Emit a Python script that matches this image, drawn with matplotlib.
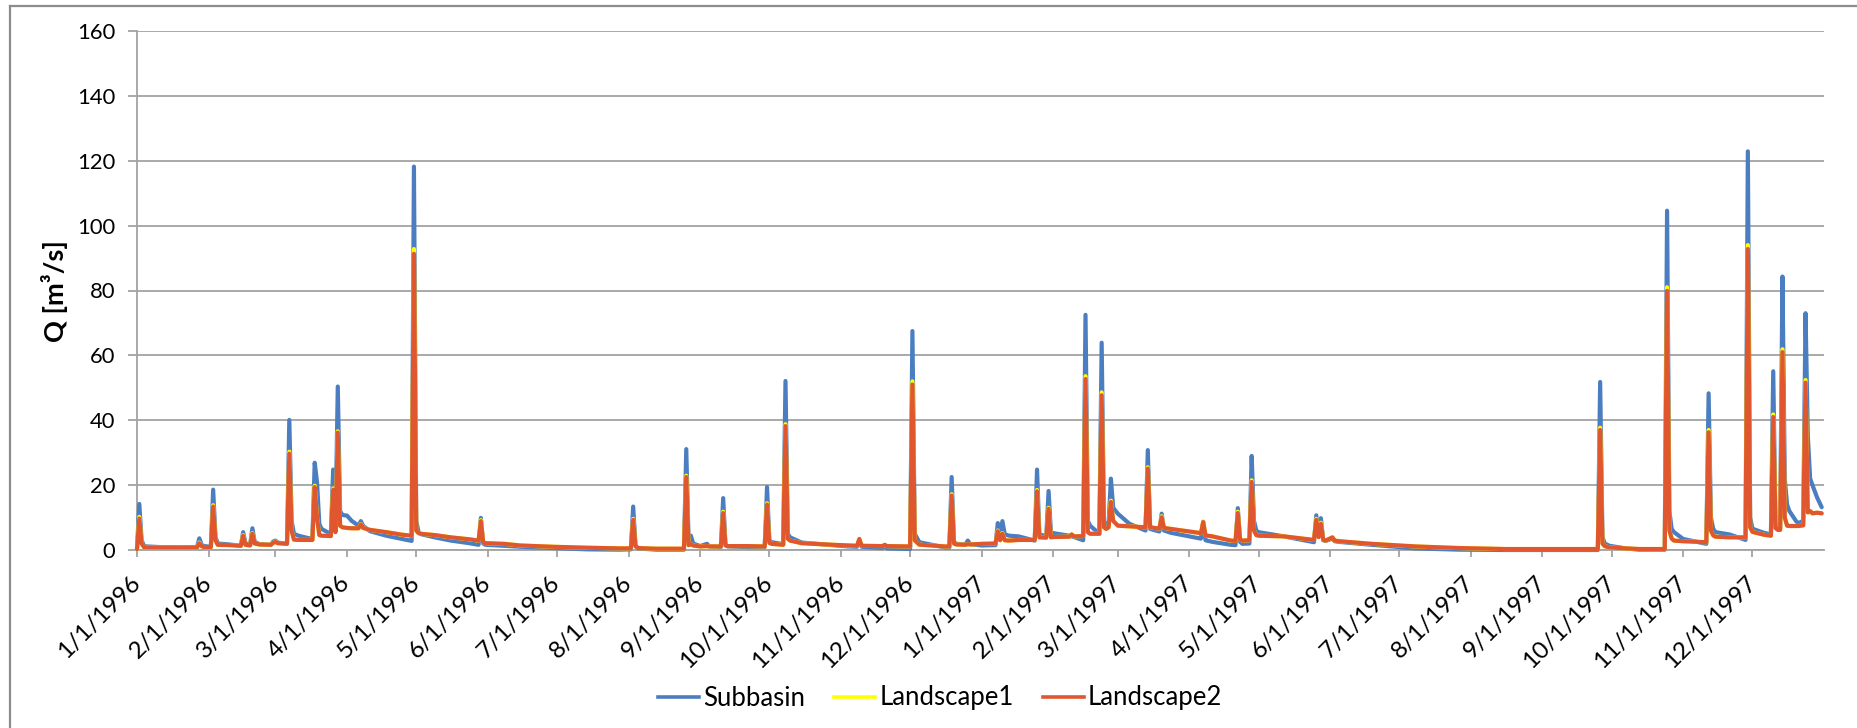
import numpy as np
import matplotlib
matplotlib.use("Agg")
import matplotlib.pyplot as plt
from matplotlib.lines import Line2D

plt.rcParams['font.family'] = ['Lato', 'DejaVu Sans']

# ---- data : day offset from 1/1/1996, Q in m3/s ----
day = [0, 1, 2, 3, 4, 10, 20, 26, 27, 28, 29, 32, 33, 34, 35, 40, 45, 46, 47, 49,
       50, 51, 53, 58, 59, 60, 61, 63, 65, 66, 67, 68, 70, 74, 76, 77, 78, 79, 80, 84,
       85, 86, 87, 88, 89, 91, 93, 96, 97, 98, 101, 108, 115, 119, 120, 121, 122, 123, 129, 136,
       144, 148, 149, 150, 151, 159, 166, 180, 195, 209, 214, 215, 216, 217, 225, 237, 238, 239, 240, 241,
       244, 247, 248, 253, 254, 255, 256, 265, 272, 273, 274, 275, 280, 281, 282, 283, 288, 300, 308, 312,
       313, 314, 323, 324, 325, 335, 336, 337, 339, 350, 352, 353, 354, 355, 359, 360, 361, 366, 372, 373,
       374, 375, 376, 378, 382, 389, 390, 391, 394, 395, 396, 397, 404, 405, 406, 410, 411, 412, 413, 417,
       418, 419, 420, 421, 422, 423, 425, 430, 437, 438, 439, 443, 444, 445, 448, 458, 461, 462, 463, 466,
       474, 476, 477, 478, 479, 482, 483, 484, 485, 486, 497, 510, 511, 512, 513, 514, 515, 518, 519, 521,
       535, 554, 573, 593, 633, 634, 635, 636, 638, 645, 651, 662, 663, 664, 665, 666, 670, 680, 681, 682,
       683, 684, 690, 697, 698, 699, 700, 701, 705, 708, 709, 710, 711, 712, 713, 714, 715, 716, 719, 720,
       722, 723, 724, 725, 726, 728, 730]

subbasin = [0.5, 14.2, 3.0, 1.3, 1.1, 0.9, 0.8, 0.9, 3.6, 1.6, 1.2, 1.0, 18.6, 4.0, 2.0, 1.7, 1.3, 5.5, 2.0, 1.5,
            6.7, 2.5, 1.8, 1.6, 2.6, 2.9, 2.3, 2.1, 2.0, 40.1, 9.0, 5.0, 4.4, 3.7, 3.5, 26.9, 21.0, 8.0, 6.5, 4.9,
            24.8, 7.0, 50.4, 12.0, 10.8, 10.6, 9.0, 7.5, 8.9, 7.4, 5.8, 4.4, 3.4, 2.8, 118.2, 9.0, 5.5, 4.9, 3.9, 2.9,
            2.1, 1.6, 9.9, 2.0, 1.6, 1.3, 1.0, 0.6, 0.2, 0.1, 0.2, 13.4, 1.5, 0.5, 0.1, 0.1, 31.1, 3.0, 4.4, 2.0,
            1.2, 1.9, 1.1, 0.9, 16.0, 1.5, 1.1, 0.9, 0.9, 19.4, 3.0, 2.4, 1.8, 52.1, 5.0, 3.9, 2.3, 1.6, 1.1, 1.0,
            3.0, 1.0, 0.6, 1.4, 0.5, 0.3, 67.5, 5.0, 2.4, 0.8, 0.8, 22.5, 2.5, 1.9, 1.7, 2.9, 1.8, 1.4, 1.5, 8.3,
            5.0, 8.9, 4.8, 4.4, 4.2, 2.9, 24.8, 4.8, 4.3, 18.2, 5.5, 5.2, 4.4, 4.2, 4.0, 3.0, 72.5, 9.0, 7.5, 5.0,
            63.9, 9.0, 7.0, 8.0, 22.0, 13.0, 11.2, 8.1, 6.0, 30.8, 6.5, 5.7, 11.2, 6.0, 5.3, 3.9, 3.5, 8.7, 3.0, 2.5,
            1.6, 1.5, 12.9, 2.5, 1.9, 2.0, 29.0, 9.0, 6.0, 5.5, 4.2, 2.4, 10.7, 4.0, 9.8, 3.0, 2.8, 3.5, 2.7, 2.5,
            1.6, 0.5, 0.1, 0.0, 0.0, 51.8, 4.0, 2.0, 1.3, 0.5, 0.1, 0.1, 104.6, 12.0, 6.5, 5.5, 3.4, 1.9, 48.3, 10.0,
            6.5, 5.5, 4.8, 3.1, 122.9, 10.0, 6.6, 6.3, 5.3, 4.8, 55.1, 8.0, 6.5, 6.8, 84.3, 22.0, 14.0, 12.0, 8.8, 8.3,
            9.0, 73.0, 35.0, 22.0, 20.0, 16.2, 13.2]

landscape1 = [0.3, 10.2, 2.0, 0.9, 0.8, 0.8, 0.8, 0.8, 2.3, 1.2, 0.9, 0.9, 13.8, 3.0, 1.6, 1.5, 1.3, 4.6, 1.6, 1.4,
              5.2, 2.0, 1.7, 1.6, 2.2, 2.6, 2.1, 2.0, 1.9, 30.3, 6.0, 3.2, 3.1, 3.1, 3.1, 19.8, 10.0, 4.6, 4.4, 4.3,
              19.0, 5.5, 36.6, 7.5, 7.0, 6.8, 6.7, 6.7, 8.0, 6.8, 6.2, 5.5, 4.7, 4.4, 92.8, 6.0, 5.2, 5.0, 4.6, 3.9,
              3.3, 2.9, 9.2, 2.4, 2.1, 1.9, 1.4, 1.0, 0.7, 0.5, 0.5, 9.6, 1.2, 0.6, 0.4, 0.4, 22.9, 1.5, 1.8, 1.4,
              1.1, 1.2, 1.1, 1.1, 11.8, 1.4, 1.2, 1.2, 1.1, 14.4, 2.2, 1.9, 1.6, 38.8, 3.5, 2.9, 2.1, 1.65, 1.4, 1.3,
              3.4, 1.3, 1.2, 1.6, 1.2, 1.1, 52.0, 3.0, 1.65, 1.1, 1.1, 17.2, 2.0, 1.7, 1.6, 1.8, 1.7, 1.9, 2.0, 6.0,
              3.0, 5.2, 3.0, 2.9, 3.1, 3.1, 18.5, 3.9, 3.8, 13.0, 3.9, 4.0, 4.1, 4.8, 4.2, 4.3, 53.6, 5.5, 5.0, 5.0,
              48.6, 7.0, 6.5, 7.0, 15.2, 9.0, 7.5, 7.3, 7.0, 25.5, 7.0, 6.6, 10.4, 6.8, 6.5, 5.5, 5.2, 8.7, 4.5, 4.2,
              2.9, 2.8, 11.8, 3.2, 2.9, 3.0, 21.5, 6.0, 4.6, 4.4, 4.2, 3.1, 9.6, 4.0, 8.4, 3.2, 2.9, 3.9, 2.9, 2.7,
              1.9, 1.1, 0.6, 0.3, 0.3, 37.7, 2.0, 1.2, 0.8, 0.5, 0.3, 0.3, 81.0, 6.0, 3.5, 2.9, 2.7, 2.4, 37.0, 6.0,
              4.5, 4.1, 3.9, 3.9, 94.0, 7.0, 5.6, 5.4, 4.7, 4.4, 41.8, 6.8, 6.2, 6.2, 61.9, 10.0, 7.5, 7.4, 7.4, 7.4,
              7.6, 52.4, 11.6, 12.0, 11.3, 11.5, 11.3]

landscape2 = [0.3, 9.7, 2.0, 0.9, 0.8, 0.8, 0.8, 0.8, 2.1, 1.2, 0.9, 0.9, 13.4, 3.0, 1.6, 1.5, 1.3, 4.4, 1.6, 1.4,
              5.0, 2.0, 1.7, 1.6, 2.2, 2.5, 2.1, 2.0, 1.9, 29.7, 6.0, 3.2, 3.1, 3.1, 3.1, 19.4, 10.0, 4.6, 4.4, 4.3,
              18.6, 5.5, 36.2, 7.5, 7.0, 6.8, 6.7, 6.7, 7.9, 6.8, 6.2, 5.5, 4.7, 4.4, 91.3, 6.0, 5.2, 5.0, 4.6, 3.9,
              3.3, 2.9, 8.9, 2.4, 2.1, 1.9, 1.4, 1.0, 0.7, 0.5, 0.5, 9.3, 1.2, 0.6, 0.4, 0.4, 22.5, 1.5, 1.8, 1.4,
              1.1, 1.2, 1.1, 1.1, 11.4, 1.4, 1.2, 1.2, 1.1, 14.0, 2.2, 1.9, 1.6, 38.2, 3.5, 2.9, 2.1, 1.65, 1.4, 1.3,
              3.4, 1.3, 1.2, 1.6, 1.2, 1.1, 51.0, 3.0, 1.65, 1.1, 1.1, 16.8, 2.0, 1.7, 1.6, 1.8, 1.7, 1.9, 2.0, 5.8,
              3.0, 5.0, 3.0, 2.9, 3.1, 3.1, 18.1, 3.9, 3.8, 12.7, 3.9, 4.0, 4.1, 4.8, 4.2, 4.3, 52.7, 5.5, 5.0, 5.0,
              47.7, 7.0, 6.5, 7.0, 14.8, 9.0, 7.5, 7.3, 7.0, 25.1, 7.0, 6.6, 10.1, 6.8, 6.5, 5.5, 5.2, 8.6, 4.5, 4.2,
              2.9, 2.8, 11.4, 3.2, 2.9, 3.0, 21.0, 6.0, 4.6, 4.4, 4.2, 3.1, 9.3, 4.0, 8.1, 3.2, 2.9, 3.9, 2.9, 2.7,
              1.9, 1.1, 0.6, 0.3, 0.3, 37.0, 2.0, 1.2, 0.8, 0.5, 0.3, 0.3, 79.9, 6.0, 3.5, 2.9, 2.7, 2.4, 36.3, 6.0,
              4.5, 4.1, 3.9, 3.9, 92.8, 7.0, 5.6, 5.4, 4.7, 4.4, 41.0, 6.8, 6.2, 6.2, 61.0, 10.0, 7.5, 7.4, 7.4, 7.4,
              7.6, 51.6, 11.6, 12.0, 11.3, 11.5, 11.3]

series_names = ["Subbasin", "Landscape1", "Landscape2"]
series_colors = ["#4A7EC0", "#FFFF00", "#E0562E"]
month_ticks = [f"{y}-{m:02d}-01" for y in (1996, 1997) for m in range(1, 13)]

# ---- figure ----
W, H = 1858, 728
fig = plt.figure(figsize=(W / 100, H / 100), dpi=100)
ax = fig.add_axes([137 / W, 1 - 550 / H, (1824 - 137) / W, (550 - 31) / H])

start = np.datetime64("1996-01-01")
dates = start + np.array(day).astype("timedelta64[D]")

for vals, name, col in zip([subbasin, landscape1, landscape2], series_names, series_colors):
    ax.plot(dates, vals, color=col, lw=3.0, label=name, solid_joinstyle="round",
            solid_capstyle="round", clip_on=False, zorder=3)

ax.set_xlim(np.datetime64("1996-01-01"), np.datetime64("1998-01-01"))
ax.set_ylim(0, 160)
ax.set_yticks(np.arange(0, 161, 20))

tick_dates = np.array(month_ticks, dtype="datetime64[D]")
ax.set_xticks(tick_dates)
lbls = []
for t in month_ticks:
    y, m, d = t.split("-")
    lbls.append(f"{int(m)}/{int(d)}/{y}")
ax.set_xticklabels(lbls)

grid_col = "#A3A3A3"
ax.grid(axis="y", color=grid_col, lw=1.3, zorder=0)
ax.grid(axis="x", visible=False)
for s in ["top", "right"]:
    ax.spines[s].set_visible(False)
for s in ["left", "bottom"]:
    ax.spines[s].set_color(grid_col)
    ax.spines[s].set_linewidth(1.3)

ax.tick_params(axis="y", length=6.5, width=1.3, color=grid_col, pad=9, labelsize=15.8, labelcolor="#000000")
ax.tick_params(axis="x", length=5, width=1.3, color=grid_col, pad=16, labelsize=17.5, labelcolor="#000000")
plt.setp(ax.get_xticklabels(), rotation=45, ha="right", va="center", rotation_mode="anchor")

fig.text(55 / W, 1 - 291 / H, "Q [m³/s]", rotation=90, ha="center", va="center",
         fontsize=19.5, fontweight="bold")

handles = [Line2D([0], [0], color=c, lw=2.6) for c in series_colors]
fig.legend(handles, series_names, loc="center", bbox_to_anchor=(940 / W, 1 - 698 / H),
           ncol=3, frameon=False, fontsize=18.5, handlelength=1.6, handletextpad=0.15,
           columnspacing=1.15)

# outer chart border (top and left visible)
fig.add_artist(Line2D([10 / W, 10 / W], [0, 1 - 6 / H], transform=fig.transFigure, color="#8C8C8C", lw=1.6))
fig.add_artist(Line2D([10 / W, 1], [1 - 6 / H, 1 - 6 / H], transform=fig.transFigure, color="#8C8C8C", lw=1.6))

fig.savefig("out.png", dpi=100)
